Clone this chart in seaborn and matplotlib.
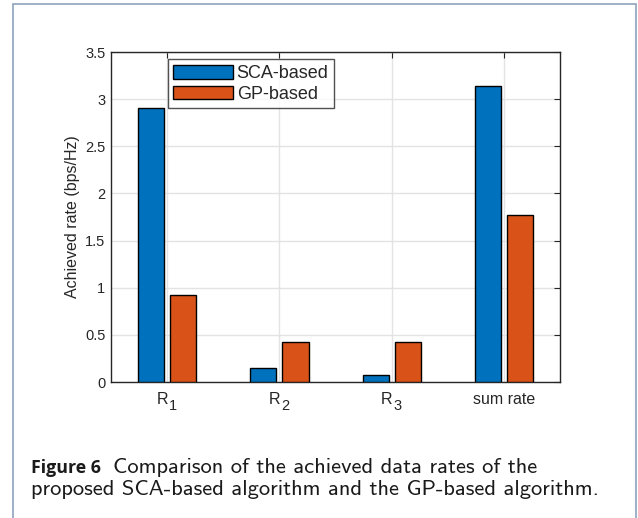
import matplotlib
matplotlib.use("Agg")
import matplotlib.pyplot as plt
import seaborn as sns
import pandas as pd
from matplotlib.patches import Rectangle

categories = ["R1", "R2", "R3", "sum rate"]
tick_main = ["R", "R", "R", "sum rate"]
tick_sub = ["1", "2", "3", ""]
series_names = ["SCA-based", "GP-based"]
sca_values = [2.91, 0.15, 0.07, 3.14]
gp_values = [0.92, 0.42, 0.42, 1.77]
colors = ["#0072BD", "#D95319"]

df = pd.DataFrame({
    "cat": categories * 2,
    "method": [series_names[0]] * 4 + [series_names[1]] * 4,
    "value": sca_values + gp_values,
})

sns.set_style("white")
plt.rcParams["font.family"] = ["Liberation Sans", "DejaVu Sans"]

fig = plt.figure(figsize=(6.38, 5.18), dpi=100)
ax = fig.add_axes([0.174, 0.2625, 0.704, 0.637])

sns.barplot(data=df, x="cat", y="value", hue="method", order=categories,
            hue_order=series_names, palette=colors, width=0.572, gap=0.19,
            edgecolor="black", linewidth=1.0, saturation=1, ax=ax, zorder=3)

ax.set_xlim(-0.5, 3.5)
ax.set_ylim(0, 3.5)
ax.set_yticks([0, 0.5, 1, 1.5, 2, 2.5, 3, 3.5])
ax.set_yticklabels(["0", "0.5", "1", "1.5", "2", "2.5", "3", "3.5"])
ax.set_xticks(range(4))
ax.set_xticklabels(["", "", "", tick_main[3]])
ax.set_xlabel("")
ax.grid(True, color="#e3e3e3", linewidth=1, zorder=0)
ax.set_axisbelow(True)
ax.tick_params(direction="in", length=4, width=0.8, top=True, right=True,
               colors="#262626")
ax.tick_params(axis="x", labelsize=11.5, pad=7)
ax.tick_params(axis="y", labelsize=10.5, pad=4)
ax.set_ylabel("Achieved rate (bps/Hz)", fontsize=11.5, color="#262626", labelpad=4)
for s in ax.spines.values():
    s.set_color("#262626")
    s.set_linewidth(1.0)

# R_i tick labels with MATLAB-like large subscripts
for i in range(3):
    ax.annotate(tick_main[i], xy=(i, 0), xycoords=("data", "axes fraction"),
                xytext=(0.5, -15.5), textcoords="offset points", ha="right",
                va="baseline", fontsize=11.5, color="#262626")
    ax.annotate(tick_sub[i], xy=(i, 0), xycoords=("data", "axes fraction"),
                xytext=(1.5, -20.5), textcoords="offset points", ha="left",
                va="baseline", fontsize=10.5, color="#262626")

leg = ax.legend(loc="upper left", bbox_to_anchor=(0.127, 0.978), fontsize=13,
                frameon=True, fancybox=False, handlelength=3.3, handleheight=0.8,
                borderpad=0.3, labelspacing=0.2, handletextpad=0.2,
                borderaxespad=0)
leg.get_frame().set_edgecolor("#262626")
leg.get_frame().set_linewidth(1.0)
for p in leg.get_patches():
    p.set_edgecolor("black")

# outer frame
fig.patches.append(Rectangle((13 / 638, -0.05), (636 - 13) / 638, 1.05 - 4 / 518,
                             transform=fig.transFigure, fill=False,
                             edgecolor="#8da2bd", linewidth=1.2))

fig.text(31 / 638, 1 - 473 / 518, "Figure 6", fontsize=12.8, fontweight="bold",
         family="Open Sans", va="baseline", color="#1a1a1a")
fig.text(113 / 638, 1 - 473 / 518, "Comparison of the achieved data rates of the",
         fontsize=16.2, family="cmss10", va="baseline", color="#1a1a1a")
fig.text(31 / 638, 1 - 495 / 518,
         "proposed SCA-based algorithm and the GP-based algorithm.",
         fontsize=16.2, family="cmss10", va="baseline", color="#1a1a1a")

fig.savefig("out.png", dpi=100)
